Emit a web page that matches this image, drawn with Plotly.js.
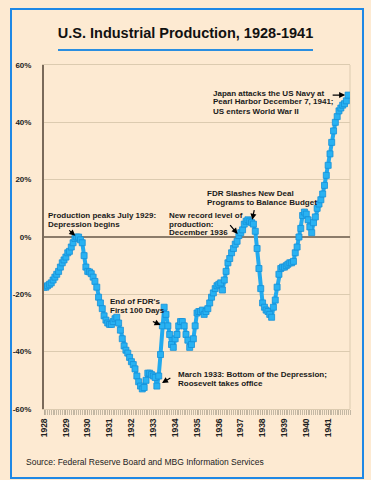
<!DOCTYPE html>
<html><head><meta charset="utf-8">
<script src="https://cdn.plot.ly/plotly-3.0.1.min.js"></script>
<style>html,body{margin:0;padding:0;background:#FDEAD2;}#chart{width:371px;height:480px;}</style>
</head><body><div id="chart"></div>
<script>
// Industrial production, % relative to July 1929 peak, monthly
const years = [1928,1929,1930,1931,1932,1933,1934,1935,1936,1937,1938,1939,1940,1941];
const v1928 = [-17.5,-17.5,-17,-16.5,-16,-15,-14,-13,-12,-10.5,-9,-8];
const v1929 = [-7,-5.5,-5,-3.5,-2,-0.5,0,0,-1,-2,-6.5,-10.5];
const v1930 = [-12,-12.2,-12.8,-14,-15.5,-17.5,-21,-23,-25,-27.5,-29,-30];
const v1931 = [-30.5,-30.5,-29.5,-28.5,-28,-30,-32.5,-35.5,-38,-39.5,-40.5,-42];
const v1932 = [-43.5,-44.5,-46,-48.5,-50.5,-52,-53,-52.5,-50,-47.5,-47.5,-48];
const v1933 = [-48.5,-49,-52,-48.5,-41,-31,-24.5,-27,-31,-34,-37.5,-38.5];
const v1934 = [-35.5,-34,-31,-29.5,-29.5,-31,-34,-36,-38.5,-37.5,-35.5,-31];
const v1935 = [-26.5,-26,-26,-25.5,-27,-26,-25,-23,-21,-19.5,-18,-17];
const v1936 = [-16.5,-16,-18.5,-15,-12,-9,-7.5,-5.5,-4,-2.5,-1.5,0.5];
const v1937 = [1.5,2.5,4.5,5.5,6,5.5,5,4.5,2,-4,-11,-18];
const v1938 = [-23,-24.5,-25.5,-26,-27,-28,-24.5,-22,-17.5,-13,-11,-10.5];
const v1939 = [-10.5,-10,-9.5,-9,-9,-8.5,-5.5,-3.5,0,3,7.5,8.7];
const v1940 = [8,6,3.5,1.5,5,7,10,11.5,13,15,18,21.5];
const v1941 = [25,29,33,37,40,42,44,45,46,46.5,47.5,49.5];
const yTickVals = [-60,-40,-20,0,20,40,60];
const yTickText = ['-60%','-40%','-20%','0%','20%','40%','60%'];

const byYear = [v1928,v1929,v1930,v1931,v1932,v1933,v1934,v1935,v1936,v1937,v1938,v1939,v1940,v1941];
const xs = [], ys = [];
years.forEach((yr, i) => {
  byYear[i].forEach((v, m) => {
    xs.push(yr + '-' + String(m + 1).padStart(2, '0') + '-01');
    ys.push(v);
  });
});
function dt(yr, mo) { return yr + '-' + String(mo).padStart(2, '0') + '-01'; }
function val(yr, mo) { return byYear[years.indexOf(yr)][mo - 1]; }
const xTickVals = years.map(yr => dt(yr, 1));
const xTickText = years.map(String);

// pixel -> paper helpers (plot area 44..350 x, 65..409 y)
const PX = p => (p - 44) / 306;
const PY = p => (409 - p) / 344;

const textLines = [
  ['Production peaks July 1929:', 47, 215],
  ['Depression begins', 47, 224],
  ["End of FDR's", 109, 301],
  ['First 100 Days', 109, 310],
  ['March 1933: Bottom of the Depression;', 177, 374],
  ['Roosevelt takes office', 177, 383],
  ['New record level of', 168, 215],
  ['production:', 168, 224],
  ['December 1936', 168, 232],
  ['FDR Slashes New Deal', 206, 193],
  ['Programs to Balance Budget', 206, 202],
  ['Japan attacks the US Navy at', 212, 93],
  ['Pearl Harbor December 7, 1941;', 212, 102],
  ['US enters World War II', 212, 111]
];
const annFont = {family: 'Liberation Sans, Arial, sans-serif', size: 8, color: '#1a1a1a', weight: 'bold'};
const annotations = textLines.map(t => ({
  text: t[0], xref: 'paper', yref: 'paper', x: PX(t[1]), y: PY(t[2]),
  xanchor: 'left', yanchor: 'middle', showarrow: false, font: annFont, borderpad: 0
}));
const arrows = [
  [1929, 7, -9, -8, 2],
  [1933, 6, -11, -5, 2],
  [1933, 3, 15, -9, 6],
  [1936, 12, -10, -12, 2],
  [1937, 7, 3, -14, 3],
  [1941, 12, -17, 0, 3]
];
arrows.forEach(a => annotations.push({
  x: dt(a[0], a[1]), y: val(a[0], a[1]), xref: 'x', yref: 'y', text: '',
  showarrow: true, arrowhead: 2, arrowsize: 1, arrowwidth: 1.2, arrowcolor: '#000',
  ax: a[2], ay: a[3], standoff: a[4]
}));
annotations.push({
  text: 'Source: Federal Reserve Board and MBG Information Services',
  xref: 'paper', yref: 'paper', x: PX(25), y: PY(462), xanchor: 'left', yanchor: 'middle',
  showarrow: false, borderpad: 0,
  font: {family: 'Liberation Sans, Arial, sans-serif', size: 8.5, color: '#222'}
});

const shapes = [
  {type: 'rect', xref: 'paper', yref: 'paper', x0: PX(11), x1: PX(363), y0: PY(478), y1: PY(9),
   line: {color: '#1E88E5', width: 2}, fillcolor: 'rgba(0,0,0,0)', layer: 'below'},
  {type: 'line', xref: 'paper', yref: 'paper', x0: PX(58), x1: PX(313), y0: PY(50), y1: PY(50),
   line: {color: '#2A8EE0', width: 2}},
  {type: 'line', xref: 'paper', yref: 'paper', x0: 1, x1: 1, y0: 0, y1: 1,
   line: {color: '#DCCBB0', width: 1}, layer: 'below'}
];

const trace = {
  x: xs, y: ys, type: 'scatter', mode: 'lines+markers',
  line: {color: '#22AAEE', width: 4},
  marker: {symbol: 'square', size: 6, color: '#29B2F2', line: {color: '#1590D8', width: 0.8}},
  hoverinfo: 'x+y'
};

const layout = {
  width: 371, height: 480,
  paper_bgcolor: '#FDEAD2', plot_bgcolor: '#FDEAD2',
  margin: {l: 44, r: 21, t: 65, b: 71},
  showlegend: false,
  title: {
    text: 'U.S. Industrial Production, 1928-1941',
    x: 0.5, xref: 'container', xanchor: 'center',
    y: 1 - 33 / 480, yref: 'container', yanchor: 'middle',
    font: {family: 'Liberation Sans, Arial, sans-serif', size: 14.5, color: '#111', weight: 'bold'}
  },
  xaxis: {
    type: 'date', range: ['1928-01-01', '1942-01-01'],
    tickmode: 'array', tickvals: xTickVals, ticktext: xTickText, tickangle: -90,
    ticks: 'outside', ticklen: 5, tickcolor: '#B8AC98', tickwidth: 1,
    minor: {dtick: 'M1', tick0: '1928-01-01', ticks: 'outside', ticklen: 5, tickcolor: '#C4B8A4', tickwidth: 1},
    showgrid: false, zeroline: false,
    showline: true, linecolor: '#DCCBB0', linewidth: 1, mirror: true,
    tickfont: {family: 'Liberation Sans, Arial, sans-serif', size: 8.5, color: '#222', weight: 'bold'}
  },
  yaxis: {
    range: [-60, 60], tickmode: 'array', tickvals: yTickVals, ticktext: yTickText,
    ticks: 'outside', ticklen: 9, tickcolor: 'rgba(0,0,0,0)',
    showgrid: true, gridcolor: '#DCCBB0', gridwidth: 1,
    zeroline: true, zerolinecolor: '#8C7C6A', zerolinewidth: 1.5,
    showline: true, linecolor: '#7A6A5A', linewidth: 2,
    tickfont: {family: 'Liberation Sans, Arial, sans-serif', size: 8, color: '#222', weight: 'bold'}
  },
  annotations: annotations,
  shapes: shapes
};

Plotly.newPlot('chart', [trace], layout, {displayModeBar: false, staticPlot: true});
</script>
</body></html>
